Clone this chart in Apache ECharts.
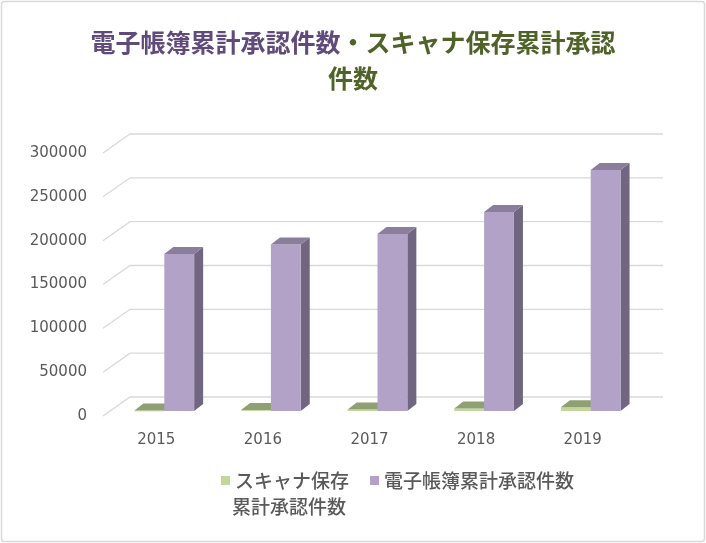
<!DOCTYPE html>
<html>
<head>
<meta charset="utf-8">
<script src="https://cdn.jsdelivr.net/npm/echarts@6/dist/echarts.min.js"></script>
<style>
  html, body { margin: 0; padding: 0; background: #fff; }
  #chart { width: 706px; height: 543px; }
</style>
</head>
<body>
<div id="chart"></div>
<script>
// 年度
const years = ['2015', '2016', '2017', '2018', '2019']
// スキャナ保存累計承認件数
const scanValues = [500, 1000, 1600, 2900, 4300]
// 電子帳簿累計承認件数
const bookValues = [179000, 190000, 202000, 227000, 275000]
// 目盛
const yTicks = [0, 50000, 100000, 150000, 200000, 250000, 300000]

const scanName = 'スキャナ保存累計承認件数'
const bookName = '電子帳簿累計承認件数'

// 奥の壁までのずれ
const WALL_DX = 27
const WALL_DY = -19
// 棒の前面のずれと奥行き
const BAR_DX = 8
const BAR_DY = -5
const DEPTH_DX = 9
const DEPTH_DY = -7

const labelFont = 'DejaVu Sans'
const jpFont = 'Noto Sans CJK JP'

var myChart = echarts.init(document.getElementById('chart'))

function gridRender(params, api) {
  const cs = params.coordSys
  const y = api.coord([0, api.value(1)])[1]
  return {
    type: 'polyline',
    shape: {
      points: [
        [cs.x, y],
        [cs.x + WALL_DX, y + WALL_DY],
        [cs.x + cs.width + WALL_DX, y + WALL_DY],
      ],
    },
    style: { stroke: '#d9d9d9', lineWidth: 1.3, fill: null },
  }
}

// side: -1 左の棒, 0 右の棒
function barRender(side, colors) {
  return function (params, api) {
    const cat = api.value(0)
    const v = api.value(1)
    const base = api.coord([cat, 0])
    const top = api.coord([cat, v])
    const band = api.size([1, 0])[0]
    const w = band * 0.28
    const x0 = base[0] + side * w + BAR_DX
    const x1 = x0 + w
    const yb = base[1] + BAR_DY
    const yt = top[1] + BAR_DY
    return {
      type: 'group',
      children: [
        {
          type: 'polygon',
          shape: {
            points: [
              [x1, yt],
              [x1 + DEPTH_DX, yt + DEPTH_DY],
              [x1 + DEPTH_DX, yb + DEPTH_DY],
              [x1, yb],
            ],
          },
          style: { fill: colors.side },
        },
        {
          type: 'rect',
          shape: { x: x0, y: yt, width: w, height: Math.max(yb - yt, 0.8) },
          style: { fill: colors.front },
        },
        {
          type: 'polygon',
          shape: {
            points: [
              [x0, yt],
              [x0 + DEPTH_DX, yt + DEPTH_DY],
              [x1 + DEPTH_DX, yt + DEPTH_DY],
              [x1, yt],
            ],
          },
          style: { fill: colors.top },
        },
      ],
    }
  }
}

var option = {
  backgroundColor: '#fff',
  animation: false,
  title: {
    left: 'center',
    top: 24,
    padding: 0,
    text: '{p|電子帳簿累計承認件数}{g|・スキャナ保存累計承認}\n{g|件数}',
    textStyle: {
      rich: {
        p: { color: '#604a7b', fontSize: 25, fontWeight: 'bold', fontFamily: jpFont, lineHeight: 36, align: 'center' },
        g: { color: '#4f6228', fontSize: 25, fontWeight: 'bold', fontFamily: jpFont, lineHeight: 36, align: 'center' },
      },
    },
  },
  legend: {
    left: 216,
    top: 466,
    itemWidth: 9,
    itemHeight: 9,
    itemGap: 21,
    icon: 'rect',
    data: [
      { name: scanName, itemStyle: { color: '#c3d69b' } },
      { name: bookName, itemStyle: { color: '#b3a2c7' } },
    ],
    formatter: (name) => {
      if (name === scanName) return 'スキャナ保存'
      return name
    },
    textStyle: { color: '#595959', fontSize: 19, fontWeight: 500, fontFamily: jpFont },
  },
  graphic: [
    {
      type: 'rect',
      shape: { x: 1.5, y: 1.5, width: 703, height: 540, r: 3 },
      style: { fill: null, stroke: '#d9d9d9', lineWidth: 1.5 },
      silent: true,
    },
    {
      type: 'text',
      left: 232,
      top: 497,
      style: { text: '累計承認件数', fill: '#595959', fontSize: 19, fontWeight: 500, fontFamily: jpFont },
    },
  ],
  grid: {
    left: 103,
    right: 70,
    top: 153,
    bottom: 127,
  },
  xAxis: {
    type: 'category',
    data: years,
    axisLine: { show: false },
    axisTick: { show: false },
    axisLabel: { color: '#595959', fontSize: 15, fontFamily: labelFont, margin: 17 },
  },
  yAxis: {
    type: 'value',
    min: 0,
    max: 300000,
    interval: 50000,
    axisLine: { show: false },
    axisTick: { show: false },
    splitLine: { show: false },
    axisLabel: {
      color: '#595959',
      fontSize: 15,
      fontFamily: labelFont,
      margin: 16,
      formatter: (v) => String(v),
    },
  },
  series: [
    {
      name: 'grid',
      type: 'custom',
      silent: true,
      z: 1,
      renderItem: gridRender,
      data: yTicks.map((t) => [0, t]),
    },
    {
      name: scanName,
      type: 'custom',
      z: 2,
      itemStyle: { color: '#c3d69b' },
      renderItem: barRender(-1, { front: '#c3d69b', side: '#7f8f5a', top: '#8fa072' }),
      data: scanValues.map((v, i) => [i, v]),
    },
    {
      name: bookName,
      type: 'custom',
      z: 3,
      itemStyle: { color: '#b3a2c7' },
      renderItem: barRender(0, { front: '#b3a2c7', side: '#716682', top: '#8a7e9c' }),
      data: bookValues.map((v, i) => [i, v]),
    },
  ],
}

option && myChart.setOption(option)
window.addEventListener('resize', function () {
  myChart.resize()
})
</script>
</body>
</html>
